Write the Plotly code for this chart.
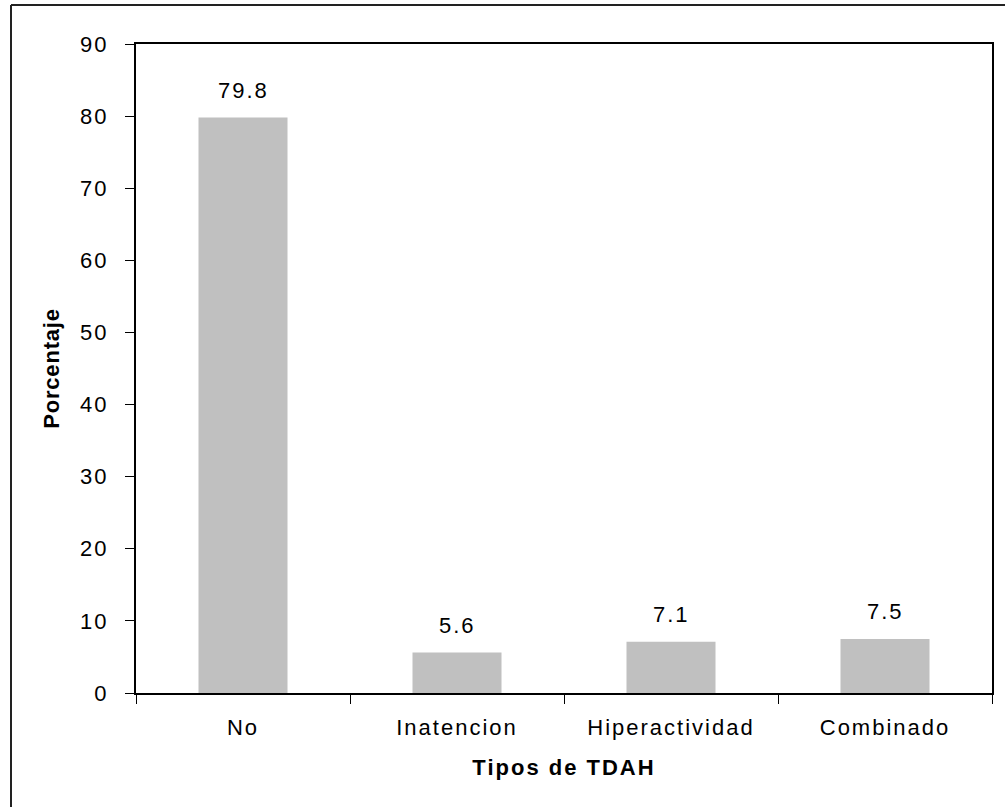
import plotly.graph_objects as go

# Porcentaje de casos por tipo de TDAH
categorias = ["No", "Inatencion", "Hiperactividad", "Combinado"]
porcentajes = [79.8, 5.6, 7.1, 7.5]
y_ticks = [0, 10, 20, 30, 40, 50, 60, 70, 80, 90]

W, H = 1005, 807
M_L, M_R, M_T, M_B = 136, 13, 44, 114
PW, PH = W - M_L - M_R, H - M_T - M_B

FONT = "Liberation Sans, Arial, sans-serif"
FS = 22


def px_to_paper_x(px):
    return (px - M_L) / PW


def px_to_paper_y(py):
    return (H - M_B - py) / PH


fig = go.Figure(
    go.Bar(
        x=categorias,
        y=porcentajes,
        marker=dict(color="#C0C0C0", line=dict(width=0)),
        hoverinfo="x+y",
    )
)

# value labels above each bar
for cat, val in zip(categorias, porcentajes):
    fig.add_annotation(
        x=cat, y=val, text=f"{val:.1f}", showarrow=False,
        yanchor="bottom", yshift=13,
        font=dict(family=FONT, size=FS, color="black"),
    )

# outer frame around the whole chart
frame = dict(type="line", xref="paper", yref="paper",
             line=dict(color="#222222", width=2))
fig.add_shape(**frame, x0=px_to_paper_x(11), x1=px_to_paper_x(1006),
              y0=px_to_paper_y(5), y1=px_to_paper_y(5))
fig.add_shape(**frame, x0=px_to_paper_x(11), x1=px_to_paper_x(11),
              y0=px_to_paper_y(5), y1=px_to_paper_y(808))

fig.update_layout(
    width=W, height=H,
    margin=dict(l=M_L, r=M_R, t=M_T, b=M_B, autoexpand=False),
    paper_bgcolor="white", plot_bgcolor="white",
    bargap=0.584,
    showlegend=False,
    font=dict(family=FONT, size=FS, color="black"),
    xaxis=dict(
        type="category", range=[-0.5, 3.5],
        showline=True, linecolor="black", linewidth=2, mirror=True,
        ticks="outside", tickson="boundaries", ticklen=9, tickwidth=1,
        tickcolor="black", showgrid=False, ticklabelstandoff=14,
        tickfont=dict(family=FONT, size=FS),
        title=dict(text="<b>Tipos de TDAH</b>", standoff=20,
                   font=dict(family=FONT, size=FS)),
    ),
    yaxis=dict(
        range=[0, 90], tickvals=y_ticks,
        showline=True, linecolor="black", linewidth=2, mirror=True,
        ticks="outside", ticklen=9, tickwidth=1, tickcolor="black",
        showgrid=False, zeroline=False, ticklabelstandoff=12,
        tickfont=dict(family=FONT, size=FS),
        title=dict(text="<b>Porcentaje</b>", standoff=18,
                   font=dict(family=FONT, size=FS)),
    ),
)

spacing_js = """
var s = document.createElement('style');
s.textContent = '.main-svg text { letter-spacing: 2px; } '
              + '.main-svg text.ytitle { letter-spacing: 0.8px; }';
document.head.appendChild(s);
"""

fig.write_html("out.html", post_script=spacing_js)
